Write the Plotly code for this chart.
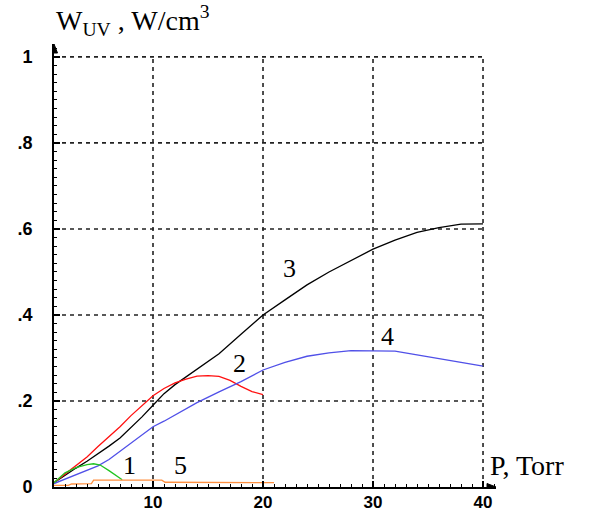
import plotly.graph_objects as go

# ---- data ----
x3 = [1, 2, 3, 4, 5, 6, 7, 8, 9, 10, 11, 12, 13, 14, 16, 18, 20, 22, 24, 26, 28, 30, 32, 34, 36, 38, 40]
y3 = [0.01, 0.028, 0.044, 0.06, 0.077, 0.095, 0.114, 0.138, 0.163, 0.19, 0.217, 0.238, 0.256, 0.272,
      0.31, 0.355, 0.40, 0.435, 0.47, 0.50, 0.527, 0.553, 0.574, 0.592, 0.603, 0.611, 0.612]

x2 = [1, 2, 3, 4, 5, 6, 7, 8, 9, 10, 11, 12, 13, 14, 15, 16, 17, 18, 19, 20]
y2 = [0.01, 0.03, 0.05, 0.07, 0.094, 0.117, 0.14, 0.166, 0.19, 0.212, 0.229, 0.242, 0.251,
      0.258, 0.259, 0.257, 0.248, 0.234, 0.222, 0.215]

x4 = [1, 2, 3, 4, 5, 6, 7, 8, 9, 10, 11, 12, 13, 14, 16, 18, 20, 22, 24, 26, 28, 30, 32, 34, 36, 38, 40]
y4 = [0.008, 0.018, 0.028, 0.038, 0.049, 0.064, 0.083, 0.1, 0.12, 0.14, 0.153, 0.167, 0.182, 0.196,
      0.221, 0.245, 0.272, 0.29, 0.304, 0.312, 0.317, 0.317, 0.316, 0.307, 0.298, 0.29, 0.281]

x1 = [1, 2, 3, 4, 4.6, 5.2, 6, 6.6, 7.2]
y1 = [0.01, 0.033, 0.045, 0.052, 0.054, 0.051, 0.038, 0.027, 0.017]

x5 = [1, 2.3, 2.6, 4.4, 4.6, 10.8, 11.1, 21]
y5 = [0.004, 0.004, 0.007, 0.008, 0.016, 0.016, 0.011, 0.010]

x_ticks = [10, 20, 30, 40]
y_ticks = [0, 0.2, 0.4, 0.6, 0.8, 1.0]
y_ticktext = ["0", ".2", ".4", ".6", ".8", "1"]

curve_labels = ["1", "5", "2", "3", "4"]
label_x = [7.9, 12.5, 17.9, 22.4, 31.3]
label_y = [0.051, 0.049, 0.286, 0.507, 0.351]

series = [
    (x3, y3, "#000000"),
    (x2, y2, "#ff1010"),
    (x4, y4, "#5050e8"),
    (x1, y1, "#22c422"),
    (x5, y5, "#ff9040"),
]

X_MIN, X_MAX = 1, 41.18
Y_MIN, Y_MAX = 0, 1.03

fig = go.Figure()
for xs, ys, c in series:
    fig.add_trace(go.Scatter(x=xs, y=ys, mode="lines", line=dict(color=c, width=1.3),
                             showlegend=False, hoverinfo="skip", cliponaxis=False))

# dashed grid limited to the data box
shapes = []
for xv in x_ticks:
    shapes.append(dict(type="line", xref="x", yref="y", x0=xv, x1=xv, y0=0, y1=max(y_ticks),
                       line=dict(color="#222222", width=1.6, dash="4px,4px"), layer="below"))
for yv in y_ticks[1:]:
    shapes.append(dict(type="line", xref="x", yref="y", x0=X_MIN, x1=max(x_ticks), y0=yv, y1=yv,
                       line=dict(color="#222222", width=1.6, dash="4px,4px"), layer="below"))

# axis arrowheads (pixel-sized paths anchored at the axis ends)
shapes.append(dict(type="path", xref="x", yref="y", xsizemode="pixel", ysizemode="pixel",
                   xanchor=X_MIN, yanchor=Y_MAX, path="M -3.5,-9 L 0,0 L 3.5,-9 Z",
                   fillcolor="black", line=dict(color="black", width=1)))
shapes.append(dict(type="path", xref="x", yref="y", xsizemode="pixel", ysizemode="pixel",
                   xanchor=X_MAX, yanchor=Y_MIN, path="M -9,-3.5 L 0,0 L -9,3.5 Z",
                   fillcolor="black", line=dict(color="black", width=1)))

serif = "Liberation Serif, Times New Roman, serif"
annotations = []
for t, lx, ly in zip(curve_labels, label_x, label_y):
    annotations.append(dict(x=lx, y=ly, xref="x", yref="y", text=t, showarrow=False,
                            font=dict(family=serif, size=26, color="black")))

# axis titles
annotations.append(dict(xref="paper", yref="paper", x=0.0, y=1.0, xanchor="left", yanchor="bottom",
                        xshift=0, yshift=2,
                        text="W<sub>UV</sub> , W/cm<sup>3</sup>", showarrow=False,
                        font=dict(family=serif, size=28, color="black")))
annotations.append(dict(xref="paper", yref="paper", x=1.0, y=0.0, xanchor="left", yanchor="bottom",
                        xshift=-8, yshift=4,
                        text="P, Torr", showarrow=False,
                        font=dict(family=serif, size=28, color="black")))

ytickfont = dict(family="Liberation Sans, Arial, sans-serif", size=18, color="black", weight="bold")
xtickfont = dict(family="Liberation Sans, Arial, sans-serif", size=17, color="black", weight="bold")

fig.update_layout(
    width=595, height=513,
    margin=dict(l=54, r=99, t=44, b=26),
    paper_bgcolor="white", plot_bgcolor="white",
    shapes=shapes, annotations=annotations,
    xaxis=dict(range=[X_MIN, X_MAX], showgrid=False, zeroline=False, automargin=False,
               showline=True, linecolor="black", linewidth=2,
               tickmode="array", tickvals=x_ticks, ticktext=[str(v) for v in x_ticks],
               ticks="inside", ticklen=6, tickwidth=1.5, tickcolor="black",
               tickfont=xtickfont, ticklabelstandoff=-1,
               minor=dict(tick0=0, dtick=1, ticks="inside", ticklen=3, tickwidth=1.2,
                          tickcolor="black", showgrid=False)),
    yaxis=dict(range=[Y_MIN, Y_MAX], showgrid=False, zeroline=False, automargin=False,
               showline=True, linecolor="black", linewidth=2,
               tickmode="array", tickvals=y_ticks, ticktext=y_ticktext,
               ticks="inside", ticklen=6, tickwidth=1.5, tickcolor="black",
               tickfont=ytickfont, ticklabelstandoff=16,
               minor=dict(tick0=0, dtick=0.02, ticks="inside", ticklen=3, tickwidth=1.2,
                          tickcolor="black", showgrid=False)),
)

fig.write_html("out.html")
